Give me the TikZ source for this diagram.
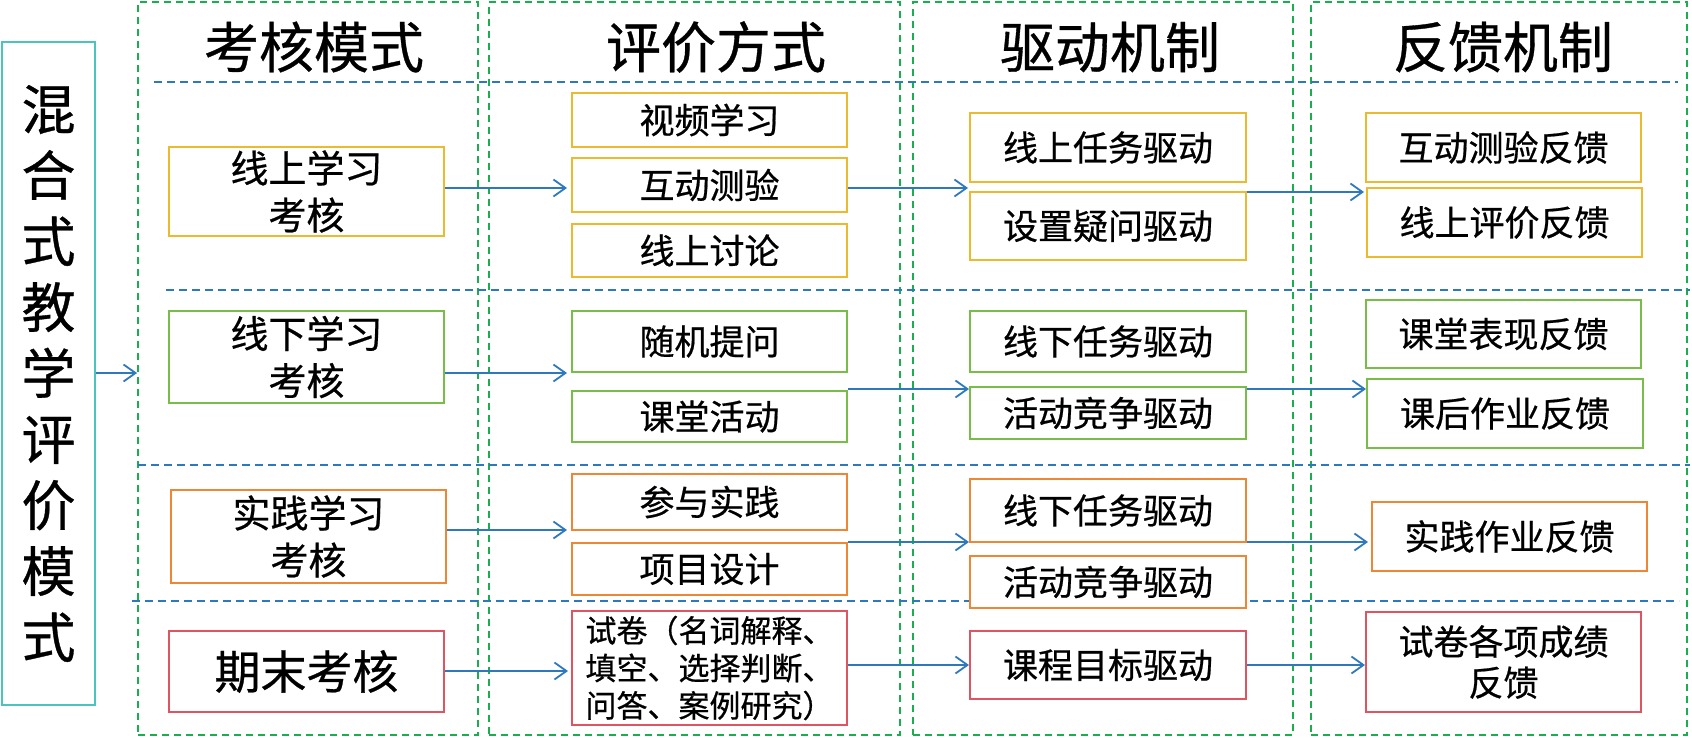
\documentclass[tikz,border=0pt]{standalone}
\usepackage{fontspec}
\setmainfont{Noto Sans CJK SC}[RawFeature={embolden=0.6}]
\usetikzlibrary{arrows.meta}
\definecolor{tealc}{HTML}{4BC4BD}
\definecolor{yelc}{HTML}{EDB92E}
\definecolor{grnc}{HTML}{77BD48}
\definecolor{orgc}{HTML}{ED8635}
\definecolor{redc}{HTML}{DE5561}
\definecolor{bluec}{HTML}{2E78BE}
\definecolor{gdash}{HTML}{19AF4F}
\tikzset{
  colbox/.style={draw=gdash, line width=1.8pt, dash pattern=on 7pt off 5pt, inner sep=0pt},
  bdash/.style={draw=bluec, line width=1.8pt, dash pattern=on 8pt off 5pt},
  hdr/.style={inner sep=0pt, font=\fontsize{55}{60}\selectfont},
  box/.style={draw, line width=1.8pt, fill=white, inner sep=0pt, align=center, font=\fontsize{35}{42}\selectfont},
  yb/.style={box, draw=yelc},
  gb/.style={box, draw=grnc},
  ob/.style={box, draw=orgc},
  rb/.style={box, draw=redc},
  arr/.style={draw=bluec, line width=1.8pt, -{Straight Barb[length=12pt,width=17pt,line width=1.8pt]}}
}
\begin{document}
\begin{tikzpicture}[x=1pt,y=-1pt]
\useasboundingbox (0,0) rectangle (1692,737);
% column frames
\node[colbox, minimum width=340, minimum height=733] (k1) at (308,368.5) {};
\node[colbox, minimum width=411, minimum height=733] (k2) at (694.5,368.5) {};
\node[colbox, minimum width=380, minimum height=733] (k3) at (1103,368.5) {};
\node[colbox, minimum width=376, minimum height=733] (k4) at (1499,368.5) {};
% row separators
\draw[bdash] (154,82) -- (1678,82);
\draw[bdash] (166,290) -- (1690,290);
\draw[bdash] (138,465) -- (1690,465);
\draw[bdash] (132,601) -- (1679,601);
% headers
\node[hdr] (h1) at (314,47) {考核模式};
\node[hdr] (h2) at (716,47) {评价方式};
\node[hdr] (h3) at (1110,47) {驱动机制};
\node[hdr] (h4) at (1503,47) {反馈机制};
% left box
\node[draw=tealc, line width=1.8pt, inner sep=0pt, minimum width=93, minimum height=663, align=center,
      font=\fontsize{54}{66}\selectfont] (mode) at (48.5,373.5)
      {混\\合\\式\\教\\学\\评\\价\\模\\式};
% column 1
\node[yb, minimum width=275, minimum height=89, font=\fontsize{38}{47}\selectfont] (a1) at (306.5,191.5) {线上学习\\考核};
\node[gb, minimum width=275, minimum height=92, font=\fontsize{38}{47}\selectfont] (a2) at (306.5,357) {线下学习\\考核};
\node[ob, minimum width=275, minimum height=93, font=\fontsize{38}{47}\selectfont] (a3) at (308.5,536.5) {实践学习\\考核};
\node[rb, minimum width=275, minimum height=81, font=\fontsize{46}{52}\selectfont] (a4) at (306.5,671.5) {期末考核};
% column 2
\node[yb, minimum width=275, minimum height=54] (b1) at (709.5,120) {视频学习};
\node[yb, minimum width=275, minimum height=54] (b2) at (709.5,185) {互动测验};
\node[yb, minimum width=275, minimum height=53] (b3) at (709.5,250.5) {线上讨论};
\node[gb, minimum width=275, minimum height=61] (b4) at (709.5,341.5) {随机提问};
\node[gb, minimum width=275, minimum height=51] (b5) at (709.5,416.5) {课堂活动};
\node[ob, minimum width=275, minimum height=56] (b6) at (709.5,502) {参与实践};
\node[ob, minimum width=275, minimum height=52] (b7) at (709.5,569) {项目设计};
\node[rb, minimum width=275, minimum height=114, align=left, font=\fontsize{31}{37.5}\selectfont] (b8) at (709.5,668)
  {试卷（名词解释、\\填空、选择判断、\\问答、案例研究）};
% column 3
\node[yb, minimum width=276, minimum height=69] (c1) at (1108,147.5) {线上任务驱动};
\node[yb, minimum width=276, minimum height=68] (c2) at (1108,226) {设置疑问驱动};
\node[gb, minimum width=276, minimum height=61] (c3) at (1108,341.5) {线下任务驱动};
\node[gb, minimum width=276, minimum height=52] (c4) at (1108,413) {活动竞争驱动};
\node[ob, minimum width=276, minimum height=63] (c5) at (1108,510.5) {线下任务驱动};
\node[ob, minimum width=276, minimum height=52] (c6) at (1108,582) {活动竞争驱动};
\node[rb, minimum width=276, minimum height=68] (c7) at (1108,665) {课程目标驱动};
% column 4
\node[yb, minimum width=275, minimum height=69] (d1) at (1503.5,147.5) {互动测验反馈};
\node[yb, minimum width=275, minimum height=69] (d2) at (1504.5,222.5) {线上评价反馈};
\node[gb, minimum width=275, minimum height=68] (d3) at (1503.5,334) {课堂表现反馈};
\node[gb, minimum width=276, minimum height=69] (d4) at (1505,413.5) {课后作业反馈};
\node[ob, minimum width=275, minimum height=69] (d5) at (1509.5,536.5) {实践作业反馈};
\node[rb, minimum width=275, minimum height=100, font=\fontsize{35}{41}\selectfont] (d6) at (1503.5,662) {试卷各项成绩\\反馈};
% arrow tips
\coordinate (p1) at (567,188);
\coordinate (p2) at (567,373);
\coordinate (p3) at (567,530);
\coordinate (p4) at (568,671);
\coordinate (q1) at (968,188);
\coordinate (q2) at (969,389);
\coordinate (q3) at (969,542);
\coordinate (q4) at (969,665);
\coordinate (u1) at (1364,192);
\coordinate (u2) at (1366,389);
\coordinate (u3) at (1368,542);
\coordinate (u4) at (1365,665);
% arrows
\draw[arr] (mode.east |- p2) -- (k1.west |- p2);
\draw[arr] (a1.east |- p1) -- (p1);
\draw[arr] (a2.east |- p2) -- (p2);
\draw[arr] (a3.east |- p3) -- (p3);
\draw[arr] (a4.east |- p4) -- (p4);
\draw[arr] (b2.east |- q1) -- (q1);
\draw[arr] (b5.east |- q2) -- (q2);
\draw[arr] (b7.east |- q3) -- (q3);
\draw[arr] (b8.east |- q4) -- (q4);
\draw[arr] (c2.east |- u1) -- (u1);
\draw[arr] (c4.east |- u2) -- (u2);
\draw[arr] (c5.east |- u3) -- (u3);
\draw[arr] (c7.east |- u4) -- (u4);
\end{tikzpicture}
\end{document}
